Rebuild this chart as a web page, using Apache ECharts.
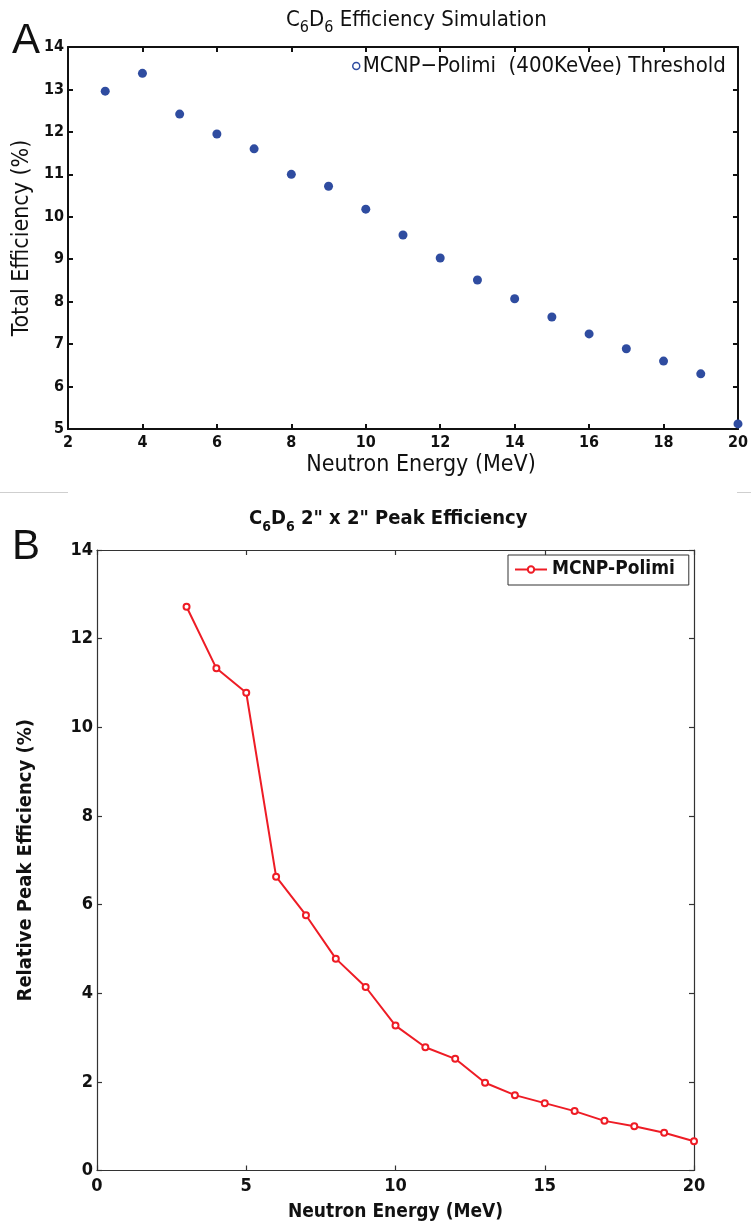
<!DOCTYPE html>
<html>
<head>
<meta charset="utf-8">
<script src="https://cdn.jsdelivr.net/npm/echarts@6/dist/echarts.min.js"></script>
<style>
  html, body { margin: 0; padding: 0; background: #fff; }
  #chart { width: 751px; height: 1229px; }
</style>
</head>
<body>
<div id="chart"></div>
<script>
// Panel A: total efficiency vs neutron energy (400 keVee threshold)
const energyA = [3, 4, 5, 6, 7, 8, 9, 10, 11, 12, 13, 14, 15, 16, 17, 18, 19, 20];
const totalEff = [12.96, 13.38, 12.42, 11.95, 11.60, 11.00, 10.72, 10.18, 9.57, 9.03, 8.51, 8.07, 7.64, 7.24, 6.89, 6.60, 6.30, 5.12];
const xTicksA = [2, 4, 6, 8, 10, 12, 14, 16, 18, 20];
const yTicksA = [5, 6, 7, 8, 9, 10, 11, 12, 13, 14];

// Panel B: relative peak efficiency, 2" x 2" detector
const energyB = [3, 4, 5, 6, 7, 8, 9, 10, 11, 12, 13, 14, 15, 16, 17, 18, 19, 20];
const peakEff = [12.72, 11.33, 10.78, 6.63, 5.76, 4.78, 4.14, 3.27, 2.78, 2.52, 1.98, 1.70, 1.52, 1.34, 1.12, 1.00, 0.85, 0.66];
const xTicksB = [0, 5, 10, 15, 20];
const yTicksB = [0, 2, 4, 6, 8, 10, 12, 14];

const nameA = 'MCNP\u2212Polimi  (400KeVee) Threshold';
const nameB = 'MCNP-Polimi';

const NARROW = "'Liberation Sans Narrow', 'DejaVu Sans Condensed', 'Liberation Sans', sans-serif";
const BLUE = '#2f4ca0';
const RED = '#ee1c25';

function range(ticks) {
  return { min: ticks[0], max: ticks[ticks.length - 1], interval: ticks[1] - ticks[0] };
}

function axisBase(ticks, gridIndex, position, opts) {
  const r = range(ticks);
  return Object.assign({
    type: 'value',
    gridIndex: gridIndex,
    position: position,
    min: r.min, max: r.max, interval: r.interval,
    splitLine: { show: false },
    axisLine: { show: true, onZero: false, lineStyle: { color: opts.lineColor, width: opts.lineWidth } },
    axisTick: { show: true, inside: true, length: 5, lineStyle: { color: opts.lineColor, width: opts.lineWidth } },
    axisLabel: { show: false }
  }, opts.extra || {});
}

const styleA = { lineColor: '#111', lineWidth: 2 };
const styleB = { lineColor: '#333', lineWidth: 1.2 };

const labelAx = { show: true, fontFamily: NARROW, fontWeight: 'bold', fontSize: 16, color: '#111', margin: 6, showMinLabel: true, showMaxLabel: true };
const labelAy = Object.assign({}, labelAx, { margin: 4 });
const labelBx = { show: true, fontFamily: NARROW, fontWeight: 'bold', fontSize: 18, color: '#111', margin: 7, showMinLabel: true, showMaxLabel: true };
const labelBy = Object.assign({}, labelBx, { margin: 4 });

const chart = echarts.init(document.getElementById('chart'), null, { renderer: 'canvas' });

const option = {
  backgroundColor: '#fff',
  animation: false,
  title: [
    {
      text: '{n|C}{s|6}{n|D}{s|6}{n| Efficiency Simulation}',
      left: 281, top: 4,
      textStyle: {
        fontWeight: 'normal',
        rich: {
          n: { fontFamily: NARROW, fontWeight: 'normal', fontSize: 22, color: '#111', lineHeight: 23, verticalAlign: 'top' },
          s: { fontFamily: NARROW, fontWeight: 'normal', fontSize: 16, color: '#111', lineHeight: 16, verticalAlign: 'top', padding: [11, 0, 0, 0] }
        }
      }
    },
    {
      text: '{n|C}{s|6}{n|D}{s|6}{n| 2" x 2" Peak Efficiency}',
      left: 244, top: 504,
      textStyle: {
        rich: {
          n: { fontFamily: NARROW, fontWeight: 'bold', fontSize: 20, color: '#111', lineHeight: 21, verticalAlign: 'top' },
          s: { fontFamily: NARROW, fontWeight: 'bold', fontSize: 14, color: '#111', lineHeight: 14, verticalAlign: 'top', padding: [11, 0, 0, 0] }
        }
      }
    }
  ],
  legend: [
    {
      data: [{ name: nameA, icon: 'circle', itemStyle: { color: '#fff', borderColor: BLUE, borderWidth: 1.5, opacity: 1 } }],
      left: 352, top: 55,
      itemWidth: 7, itemHeight: 7, itemGap: 3,
      padding: 0,
      textStyle: { fontFamily: NARROW, fontSize: 22, color: '#111', padding: [0, 0, 0, -2] }
    },
    {
      data: [nameB],
      left: 508, top: 555,
      itemWidth: 32, itemHeight: 8, itemGap: 4,
      padding: [5, 14, 6, 6],
      borderColor: '#333', borderWidth: 1,
      backgroundColor: '#fff',
      textStyle: { fontFamily: NARROW, fontWeight: 'bold', fontSize: 19, color: '#111' }
    }
  ],
  grid: [
    { left: 68, top: 47, width: 670, height: 382, containLabel: false },
    { left: 97, top: 550, width: 597, height: 620.5, containLabel: false }
  ],
  xAxis: [
    axisBase(xTicksA, 0, 'bottom', Object.assign({}, styleA, { extra: {
      axisLabel: labelAx,
      name: 'Neutron Energy (MeV)', nameLocation: 'middle', nameGap: 25,
      nameTextStyle: { fontFamily: NARROW, fontSize: 23, color: '#111', padding: [0, 0, 0, 36] }
    } })),
    axisBase(xTicksA, 0, 'top', styleA),
    axisBase(xTicksB, 1, 'bottom', Object.assign({}, styleB, { extra: {
      axisLabel: labelBx,
      name: 'Neutron Energy (MeV)', nameLocation: 'middle', nameGap: 32,
      nameTextStyle: { fontFamily: NARROW, fontWeight: 'bold', fontSize: 19, color: '#111' }
    } })),
    axisBase(xTicksB, 1, 'top', styleB)
  ],
  yAxis: [
    axisBase(yTicksA, 0, 'left', Object.assign({}, styleA, { extra: {
      axisLabel: labelAy,
      name: 'Total Efficiency (%)', nameLocation: 'middle', nameGap: 32,
      nameTextStyle: { fontFamily: NARROW, fontSize: 23, color: '#111' }
    } })),
    axisBase(yTicksA, 0, 'right', styleA),
    axisBase(yTicksB, 1, 'left', Object.assign({}, styleB, { extra: {
      axisLabel: labelBy,
      name: 'Relative Peak Efficiency (%)', nameLocation: 'middle', nameGap: 61,
      nameTextStyle: { fontFamily: NARROW, fontWeight: 'bold', fontSize: 20, color: '#111' }
    } })),
    axisBase(yTicksB, 1, 'right', styleB)
  ],
  series: [
    {
      name: nameA,
      type: 'scatter',
      xAxisIndex: 0, yAxisIndex: 0,
      data: energyA.map((e, i) => [e, totalEff[i]]),
      symbol: 'circle', symbolSize: 9,
      itemStyle: { color: BLUE, opacity: 1 },
      clip: false
    },
    {
      name: nameB,
      type: 'line',
      xAxisIndex: 2, yAxisIndex: 2,
      data: energyB.map((e, i) => [e, peakEff[i]]),
      symbol: 'emptyCircle', symbolSize: 6,
      showAllSymbol: true,
      lineStyle: { color: RED, width: 2 },
      itemStyle: { color: RED, borderColor: RED, borderWidth: 1.5 },
      clip: false
    }
  ],
  graphic: [
    { type: 'text', left: 12, top: 20, style: { text: 'A', font: "42px 'Liberation Sans', sans-serif", fill: '#111' } },
    { type: 'text', left: 12, top: 526, style: { text: 'B', font: "42px 'Liberation Sans', sans-serif", fill: '#111' } },
    { type: 'line', shape: { x1: 0, y1: 492.5, x2: 68, y2: 492.5 }, style: { stroke: '#cfcfcf', lineWidth: 1 } },
    { type: 'line', shape: { x1: 737, y1: 492.5, x2: 751, y2: 492.5 }, style: { stroke: '#cfcfcf', lineWidth: 1 } }
  ]
};

chart.setOption(option);
</script>
</body>
</html>
